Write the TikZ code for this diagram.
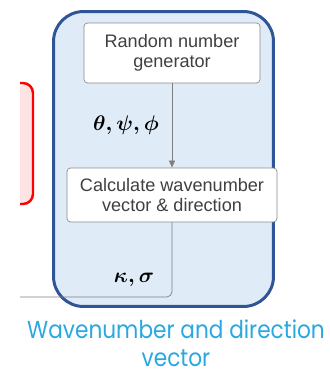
\documentclass[tikz,border=0pt]{standalone}
\usepackage{amsmath}
\usepackage{fontspec}
\setmainfont{Liberation Sans}
\newfontfamily\capfont[FakeStretch=0.88]{Poppins}
\usetikzlibrary{arrows.meta, positioning}
\definecolor{outerblue}{HTML}{2F5597}
\definecolor{outerfill}{HTML}{DFECF7}
\definecolor{alertred}{HTML}{FF0000}
\definecolor{alertpink}{HTML}{FDE3E4}
\definecolor{boxgray}{HTML}{8C8C8C}
\definecolor{linegray}{HTML}{7F7F7F}
\definecolor{textgray}{HTML}{404040}
\definecolor{capblue}{HTML}{29A8E0}
\tikzset{
	proc/.style={rectangle, draw=boxgray, fill=white, rounded corners=2pt, align=center, text=textgray, inner sep=0pt, font=\fontsize{10.3}{11.6}\selectfont},
	arr/.style={-{Triangle[length=4pt, width=3.4pt]}, draw=linegray},
	lbl/.style={inner sep=0pt, font=\fontsize{13}{13}\selectfont}
}
\begin{document}
\begin{tikzpicture}[x=0.02cm, y=-0.02cm]
        \useasboundingbox (0,0) rectangle (329,375);

        % red box, cut at the left edge
        \begin{scope}
            \clip (20,0) rectangle (329,375);
            \node[draw=alertred, line width=1.4pt, fill=alertpink, rounded corners=0.2cm, minimum width=2cm, minimum height=2.42cm] (side) at (-17,143.5) {};
        \end{scope}

        \node[draw=outerblue, line width=1.7pt, fill=outerfill, rounded corners=0.6cm, minimum width=4.4cm, minimum height=5.9cm] (group) at (163.5,159) {};

        \node[proc, minimum width=3.52cm, minimum height=1.2cm] (rng) at (172,53) {Random number\\generator};
        \node[proc, minimum width=4.2cm, minimum height=1.08cm] (calc) at (172,195) {Calculate wavenumber\\vector \& direction};
        \coordinate (out) at (20,297);

        \draw[arr] (rng) -- (calc);
        \draw[linegray, rounded corners=3pt] (calc.south) |- (out);

        \node[lbl] (angles) at (126,125) {$\boldsymbol{\theta, \psi, \phi}$};
        \node[lbl] (ks) at (134,280) {$\boldsymbol{\kappa, \sigma}$};

        \node[font=\capfont\fontsize{14}{16}\selectfont, text=capblue, align=center, inner sep=0pt] (title) at (176,343) {Wavenumber and direction\\vector};
    \end{tikzpicture}
\end{document}
